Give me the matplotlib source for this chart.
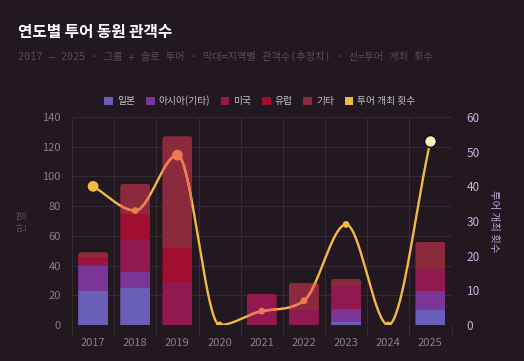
import numpy as np
import matplotlib
matplotlib.use("Agg")
import matplotlib.pyplot as plt
from matplotlib.patches import Patch, Rectangle, FancyBboxPatch
from matplotlib.ticker import FixedLocator

plt.rcParams['font.family'] = ['Noto Sans CJK KR', 'DejaVu Sans']

years = ['2017', '2018', '2019', '2020', '2021', '2022', '2023', '2024', '2025']
japan = [23, 25, 0, 0, 0, 0, 2, 0, 10]
asia = [17, 11, 0, 0, 0, 0, 9, 0, 13]
usa = [3, 21, 29, 0, 21, 10, 15, 0, 15]
europe = [2, 18, 23, 0, 0, 0, 0, 0, 0]
other = [4, 20, 75, 0, 0, 18.5, 5, 0, 18]
tours = [40, 33, 49, 0, 4, 7, 29, 0, 53]

series_names = ['일본', '아시아(기타)', '미국', '유럽', '기타']
series_vals = [japan, asia, usa, europe, other]
series_cols = ['#6a5fb8', '#7a3597', '#92194f', '#a10f30', '#8a2a3c']

BG = '#221820'
GRID = '#362a33'
YEL = '#f2b944'
CORAL = '#ec7a55'
CREAM = '#fff2b8'

fig = plt.figure(figsize=(5.24, 3.61), dpi=100, facecolor=BG)
ax = fig.add_axes([72/524, 36/361, 379.5/524, 208/361], facecolor=BG)
ax2 = ax.twinx()

x = np.arange(len(years))
w = 0.71
bottom = np.zeros(len(years))
containers = []
for name, vals, col in zip(series_names, series_vals, series_cols):
    v = np.array(vals, dtype=float)
    bc = ax.bar(x, v, w, bottom=bottom, color=col, linewidth=0, zorder=2)
    containers.append(bc)
    bottom += v
totals = bottom.copy()

ax.set_xlim(-0.5, len(years) - 0.5)
ax.set_ylim(0, 140)

# rounded top corners: clip each stack by a rounded box
aspect = (140 / 208) / (len(years) / 379.5)
for i in range(len(years)):
    if totals[i] <= 0:
        continue
    rb = FancyBboxPatch((x[i] - w/2, -10), w, totals[i] + 10,
                        boxstyle='round,pad=0,rounding_size=0.075',
                        mutation_aspect=aspect, transform=ax.transData,
                        facecolor='none', edgecolor='none')
    for bc in containers:
        bc.patches[i].set_clip_path(rb)

ax.set_yticks(np.arange(0, 141, 20))
ax.set_xticks(x)
ax.set_xticklabels(years)
ax.xaxis.set_minor_locator(FixedLocator(np.arange(-0.5, len(years), 1.0)))
ax.grid(True, axis='y', color=GRID, linewidth=0.8, zorder=0)
ax.grid(True, axis='x', which='minor', color=GRID, linewidth=0.8, zorder=0)
ax.grid(False, axis='x', which='major')
ax.set_axisbelow(True)
ax.tick_params(axis='x', which='major', length=0, pad=9, labelcolor='#8a808a', labelsize=8)
ax.tick_params(axis='x', which='minor', length=8, color=GRID, width=0.8)
ax.tick_params(axis='y', length=0, pad=8, labelcolor='#8a808a', labelsize=8)
for s in ax.spines.values():
    s.set_visible(False)
ax.set_ylabel('만 명', color='#5a4a55', fontsize=7.5, labelpad=10)

# smooth monotone cubic curve
def monotone(xs, ys, n=40):
    xs = np.asarray(xs, float); ys = np.asarray(ys, float)
    d = np.diff(ys) / np.diff(xs)
    m = np.zeros_like(ys)
    m[0] = d[0]; m[-1] = d[-1]
    for i in range(1, len(ys) - 1):
        if d[i-1] * d[i] <= 0:
            m[i] = 0
        else:
            m[i] = (d[i-1] + d[i]) / 2
    for i in range(len(d)):
        if d[i] == 0:
            m[i] = m[i+1] = 0
        else:
            a = m[i] / d[i]; b = m[i+1] / d[i]
            s = a*a + b*b
            if s > 9:
                t = 3 / np.sqrt(s)
                m[i] = t*a*d[i]; m[i+1] = t*b*d[i]
    X, Y = [], []
    for i in range(len(d)):
        h = xs[i+1] - xs[i]
        t = np.linspace(0, 1, n)
        h00 = 2*t**3 - 3*t**2 + 1; h10 = t**3 - 2*t**2 + t
        h01 = -2*t**3 + 3*t**2; h11 = t**3 - t**2
        X.append(xs[i] + t*h)
        Y.append(h00*ys[i] + h10*h*m[i] + h01*ys[i+1] + h11*h*m[i+1])
    return np.concatenate(X), np.concatenate(Y)

cx, cy = monotone(x, tours)
ax2.set_ylim(0, 60)
ax2.plot(cx, cy, color=YEL, lw=1.7, zorder=3, solid_capstyle='round')
for i in range(len(years)):
    if totals[i] > 0:
        clip = Rectangle((x[i] - w/2, 0), w, totals[i], transform=ax.transData,
                         facecolor='none', edgecolor='none')
        ln, = ax2.plot(cx, cy, color=CORAL, lw=1.7, zorder=4)
        ln.set_clip_path(clip)

for i, t in enumerate(tours):
    inside = totals[i] > 0 and t / 60 * 140 < totals[i]
    if i == len(tours) - 1:
        ax2.scatter([x[i]], [t], s=75, color=CREAM, edgecolor='#140c12', linewidth=1.2, zorder=5)
    else:
        col = CORAL if inside else YEL
        size = 60 if t >= 40 else 24
        ax2.scatter([x[i]], [t], s=size, color=col, edgecolor='none', zorder=5)

ax2.set_yticks(np.arange(0, 61, 10))
ax2.tick_params(axis='y', length=0, pad=11, labelcolor='#c4b4e4', labelsize=8.5)
for s in ax2.spines.values():
    s.set_visible(False)
ax2.set_ylabel('투어 개최 횟수', color='#b8a8d8', fontsize=7.5, rotation=270, labelpad=14)

handles = [Patch(facecolor=c, edgecolor='none') for c in series_cols] + [Patch(facecolor=YEL, edgecolor='none')]
labels = series_names + ['투어 개최 횟수']
fig.legend(handles, labels, loc='center', bbox_to_anchor=(260/524, 1 - 101/361), ncol=6,
           frameon=False, fontsize=7, labelcolor='#c8c0c8', handlelength=0.9, handleheight=0.9,
           handletextpad=0.4, columnspacing=1.1)

fig.text(18/524, 1 - 32/361, '연도별 투어 동원 관객수', color='white', fontsize=11.3, fontweight='bold',
         va='center', ha='left')
fig.text(18/524, 1 - 56/361, '2017 – 2025 · 그룹 + 솔로 투어 · 막대=지역별 관객수(추정치) · 선=투어 개최 횟수',
         color='#5c4c5c', fontsize=7.3, va='center', ha='left',
         family=['DejaVu Sans Mono', 'Noto Sans CJK KR'])

fig.savefig('out.png', dpi=100, facecolor=BG)
